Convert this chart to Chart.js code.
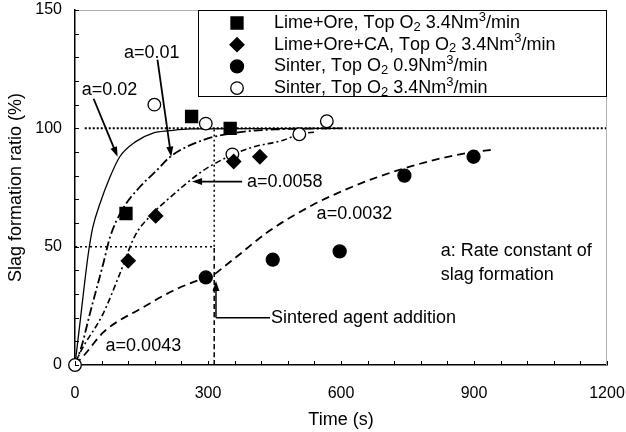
<!DOCTYPE html>
<html>
<head>
<meta charset="utf-8">
<script src="https://cdn.jsdelivr.net/npm/chart.js@4.4.1/dist/chart.umd.min.js"></script>
<style>
html, body { margin: 0; padding: 0; background: #fff; }
#wrap { width: 626px; height: 432px; }
</style>
</head>
<body>
<div id="wrap"><canvas id="grafica"></canvas></div>
<script>
// puntos medidos [tiempo (s), ratio (%)]
const lime_ore = [[115, 64], [263, 105], [350, 100]];
const lime_ore_ca = [[120, 44], [182, 63], [358, 86], [417, 88]];
const sinter_09 = [[295, 37], [446, 44.5], [597, 48], [743, 80], [899, 88]];
const sinter_34 = [[0, 0], [179, 110], [295, 102], [355, 89], [506, 97.5], [568, 103]];

// curvas de ajuste
const curva_002 = [[0, 0], [5, 8], [12, 19], [20, 32], [30, 47], [40, 58], [56, 68], [78, 79], [101, 88], [138, 94.5], [176, 98], [213, 99], [260, 99.8], [600, 100]];
const curva_001 = [[0, 0], [15, 8], [34, 22], [64, 43], [79, 54], [108, 66], [145, 75], [183, 82], [215, 88], [288, 95], [378, 98.5], [460, 99.6], [600, 100]];
const curva_00058 = [[0, 0], [11, 5], [63, 21.5], [101, 38.5], [135, 54.5], [170, 63], [213, 70.6], [288, 82], [340, 87.5], [400, 92], [470, 95], [505, 97.5], [545, 98.5]];
const curva_00043 = [[0, 0], [20, 4], [65, 14], [150, 24], [228, 32], [295, 37], [316, 38.5]];
const curva_00032 = [[316, 38.5], [363, 45.5], [437, 56.5], [535, 67.5], [609, 74], [684, 79.5], [759, 84], [830, 87.5], [900, 90], [945, 91]];

// lineas de referencia
const ref_100 = [[22, 100], [1200, 100]];
const ref_50 = [[0, 50], [314, 50]];
const ref_vert_bajo = [[314, 0], [314, 50]];
const ref_vert_alto = [[314, 50], [314, 100]];

const ticks_x = [0, 300, 600, 900, 1200];
const ticks_y = [0, 50, 100, 150];

const nombres = [
    'Lime+Ore, Top O₂ 3.4Nm³/min',
    'Lime+Ore+CA, Top O₂ 3.4Nm³/min',
    'Sinter, Top O₂ 0.9Nm³/min',
    'Sinter, Top O₂ 3.4Nm³/min'
];

const FUENTE = '"Liberation Sans", Arial, sans-serif';
Chart.defaults.font.family = FUENTE;
Chart.defaults.color = '#000';

function xy(arr) {
    return arr.map(p => ({ x: p[0], y: p[1] }));
}

function puntos(data, estilo, radio, relleno, nombre) {
    return {
        label: nombre, data: xy(data), showLine: false,
        pointStyle: estilo, pointRadius: radio, pointHoverRadius: radio,
        backgroundColor: relleno, borderColor: '#000', borderWidth: 1.3, clip: false
    };
}

function curva(data, dash, ancho) {
    return {
        data: xy(data), showLine: true, pointRadius: 0, pointHoverRadius: 0,
        borderColor: '#000', borderWidth: ancho, borderDash: dash,
        cubicInterpolationMode: 'monotone', fill: false
    };
}

function flecha(ctx, x1, y1, x2, y2) {
    const ang = Math.atan2(y2 - y1, x2 - x1);
    const L = 10, W = 3.5;
    ctx.beginPath();
    ctx.moveTo(x1, y1);
    ctx.lineTo(x2 - Math.cos(ang) * L * 0.8, y2 - Math.sin(ang) * L * 0.8);
    ctx.stroke();
    ctx.beginPath();
    ctx.moveTo(x2, y2);
    ctx.lineTo(x2 - Math.cos(ang) * L - Math.sin(ang) * W, y2 - Math.sin(ang) * L + Math.cos(ang) * W);
    ctx.lineTo(x2 - Math.cos(ang) * L + Math.sin(ang) * W, y2 - Math.sin(ang) * L - Math.cos(ang) * W);
    ctx.closePath();
    ctx.fill();
}

// texto con subindices / superindices
function textoRico(ctx, txt, x, y) {
    let cx = x;
    for (const ch of txt) {
        if (ch === '₂' || ch === '³') {
            ctx.font = '13px ' + FUENTE;
            const c = ch === '₂' ? '2' : '3';
            ctx.fillText(c, cx, ch === '₂' ? y + 4 : y - 6);
            cx += ctx.measureText(c).width;
            ctx.font = '18px ' + FUENTE;
        } else {
            ctx.fillText(ch, cx, y);
            cx += ctx.measureText(ch).width;
        }
    }
}

const anotaciones = {
    id: 'anotaciones',
    afterDraw(chart) {
        const ctx = chart.ctx, sx = chart.scales.x, sy = chart.scales.y, ca = chart.chartArea;
        const px = v => sx.getPixelForValue(v), py = v => sy.getPixelForValue(v);
        ctx.save();

        // marco superior y derecho
        ctx.strokeStyle = '#b0b0b0';
        ctx.lineWidth = 1;
        ctx.beginPath();
        ctx.moveTo(ca.left, ca.top + 0.5);
        ctx.lineTo(ca.right - 0.5, ca.top + 0.5);
        ctx.lineTo(ca.right - 0.5, ca.bottom);
        ctx.stroke();

        // ticks hacia dentro
        ctx.strokeStyle = '#000';
        ctx.beginPath();
        for (let t = 0; t <= 1200; t += 60) {
            const x = Math.round(px(t)) + 0.5;
            ctx.moveTo(x, ca.bottom);
            ctx.lineTo(x, ca.bottom - 4);
        }
        for (let v = 0; v <= 150; v += 10) {
            const y = Math.round(py(v)) + 0.5;
            ctx.moveTo(ca.left, y);
            ctx.lineTo(ca.left + 4, y);
        }
        ctx.stroke();

        // flechas
        ctx.fillStyle = '#000';
        ctx.lineWidth = 1.8;
        flecha(ctx, px(42), py(112.5), px(96), py(88));
        flecha(ctx, px(186), py(129), px(217), py(88));
        flecha(ctx, px(377), py(77.5), px(264), py(77.5));
        ctx.lineWidth = 1.5;
        ctx.beginPath();
        ctx.moveTo(px(440), py(20));
        ctx.lineTo(px(318), py(20));
        ctx.stroke();
        flecha(ctx, px(318), py(20), px(318), py(35.5));

        // textos
        ctx.font = '18px ' + FUENTE;
        ctx.textBaseline = 'middle';
        ctx.textAlign = 'center';
        ctx.fillText('a=0.02', px(78), py(116));
        ctx.fillText('a=0.01', px(173), py(132));
        ctx.textAlign = 'left';
        ctx.fillText('a=0.0058', px(388), py(77.5));
        ctx.fillText('a=0.0032', px(545), py(64));
        ctx.fillText('a=0.0043', px(69), py(8));
        ctx.fillText('a: Rate constant of', px(825), py(48));
        ctx.fillText('slag formation', px(825), py(38));
        ctx.fillText('Sintered agent addition', px(442), py(20));

        // leyenda
        const bx = ca.left + 123, by = ca.top, bw = 408, bh = 86;
        ctx.fillStyle = '#fff';
        ctx.fillRect(bx, by, bw, bh);
        ctx.strokeStyle = '#000';
        ctx.lineWidth = 1;
        ctx.strokeRect(bx + 0.5, by + 0.5, bw, bh);
        [0, 1, 2, 3].forEach((i, k) => {
            const ds = chart.data.datasets[i];
            const yy = by + 13 + k * 21.7;
            ctx.fillStyle = ds.backgroundColor;
            ctx.strokeStyle = '#000';
            ctx.lineWidth = ds.borderWidth;
            Chart.helpers.drawPoint(ctx, { pointStyle: ds.pointStyle, radius: ds.pointRadius, borderWidth: ds.borderWidth, rotation: 0 }, bx + 39, yy);
            ctx.fillStyle = '#000';
            ctx.font = '18px ' + FUENTE;
            ctx.textAlign = 'left';
            textoRico(ctx, ds.label, bx + 76, yy);
        });
        ctx.restore();
    }
};

function sinPadding(s) {
    s.paddingTop = 0;
    s.paddingBottom = 0;
    s.paddingLeft = 0;
    s.paddingRight = 0;
}

const datos = {
    datasets: [
        puntos(lime_ore, 'rect', 8.5, '#000', nombres[0]),
        puntos(lime_ore_ca, 'rectRot', 7, '#000', nombres[1]),
        puntos(sinter_09, 'circle', 6.5, '#000', nombres[2]),
        puntos(sinter_34, 'circle', 6.3, '#fff', nombres[3]),
        curva(curva_002, [], 1.3),
        curva(curva_001, [9, 3, 2, 3], 1.8),
        curva(curva_00058, [6, 3, 2, 3], 1.6),
        curva(curva_00043, [8, 5], 1.8),
        curva(curva_00032, [8, 5], 1.8),
        curva(ref_100, [2, 2], 2),
        curva(ref_50, [2, 3], 1.5),
        curva(ref_vert_bajo, [5, 3], 1.5),
        curva(ref_vert_alto, [2, 3], 1.5)
    ]
};

new Chart(document.getElementById('grafica'), {
    type: 'scatter',
    data: datos,
    options: {
        responsive: true,
        maintainAspectRatio: false,
        animation: false,
        layout: { autoPadding: false, padding: { top: 10, right: 19, left: 0, bottom: 0 } },
        plugins: {
            legend: { display: false },
            tooltip: { enabled: false }
        },
        scales: {
            x: {
                type: 'linear', min: 0, max: 1200,
                afterBuildTicks: s => { s.ticks = ticks_x.map(v => ({ value: v })); },
                afterFit: s => { s.height = 67; sinPadding(s); },
                grid: { display: false, drawTicks: false },
                border: { display: true, color: '#000', width: 1.5 },
                ticks: { color: '#000', font: { size: 16 }, padding: 19, maxRotation: 0, autoSkip: false, callback: v => String(v) },
                title: { display: true, text: 'Time (s)', color: '#000', font: { size: 18 }, padding: { top: 0, bottom: 1 } }
            },
            y: {
                type: 'linear', min: 0, max: 150,
                afterBuildTicks: s => { s.ticks = ticks_y.map(v => ({ value: v })); },
                afterFit: s => { s.width = 75; sinPadding(s); },
                grid: { display: false, drawTicks: false },
                border: { display: true, color: '#000', width: 1.5 },
                ticks: { color: '#000', font: { size: 16 }, padding: 13, callback: v => String(v) },
                title: { display: true, text: 'Slag formation ratio (%)', color: '#000', font: { size: 18 }, padding: { top: 5, bottom: 0 } }
            }
        }
    },
    plugins: [anotaciones]
});
</script>
</body>
</html>
